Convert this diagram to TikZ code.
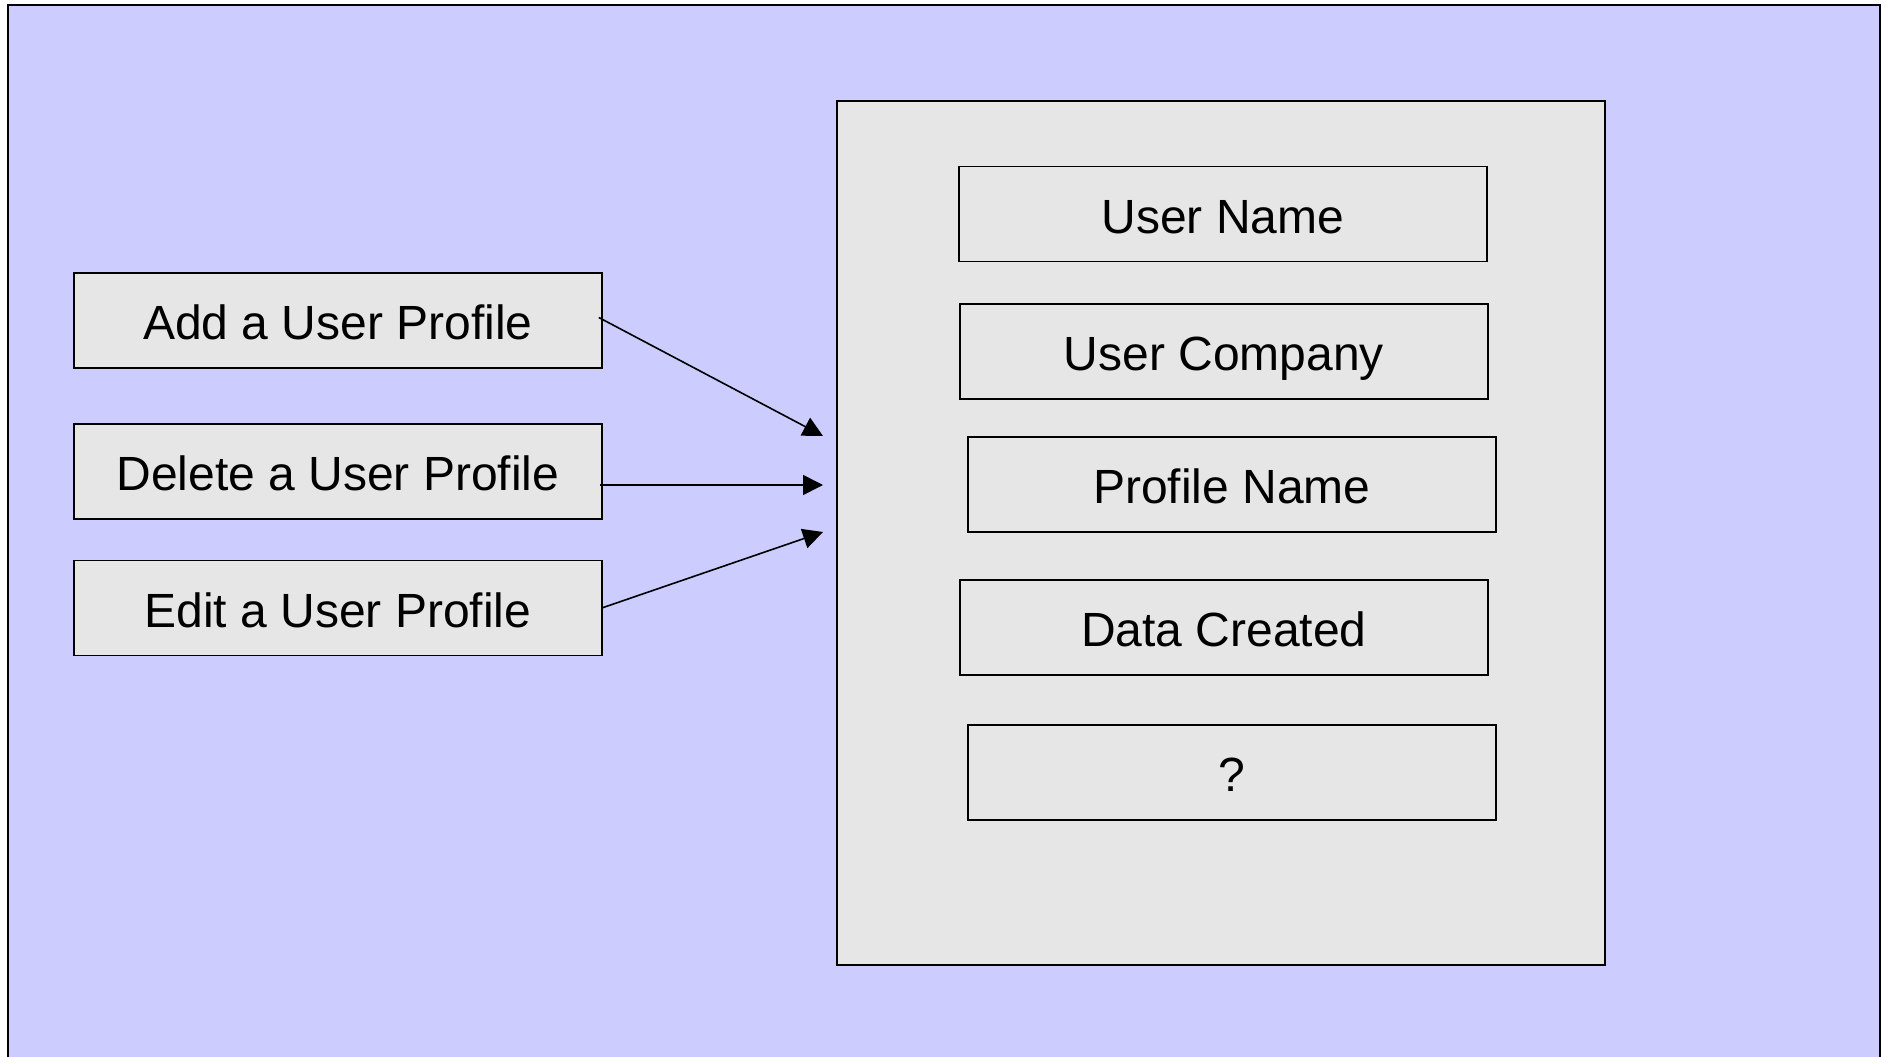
\documentclass[tikz,border=0pt]{standalone}
\usepackage{fontspec}
\setmainfont{Liberation Sans}
\usetikzlibrary{arrows.meta}
\definecolor{bgblue}{HTML}{CCCCFF}
\definecolor{boxgray}{HTML}{E6E6E6}
\begin{document}
\begin{tikzpicture}[x=1pt,y=-1pt,
  fieldbox/.style={draw=black,line width=1.6pt,fill=boxgray,minimum width=528pt,minimum height=95pt,inner sep=0pt,text height=38pt,text depth=0pt,font=\fontsize{48}{57}\selectfont},
  conn/.style={line width=1.6pt,-{Triangle[length=20pt,width=20pt]}}]
\useasboundingbox (0,0) rectangle (1891,1057);
\fill[bgblue] (8,5) rectangle (1880,1057);
\draw[line width=2.2pt] (8,1060) -- (8,5) -- (1880,5) -- (1880,1060);
\node[draw=black,line width=2pt,fill=boxgray,minimum width=768pt,minimum height=864pt,inner sep=0pt] (panel) at (1221,533) {};
\node[fieldbox] (uname) at (1223,214) {User Name};
\node[fieldbox] (ucomp) at (1224,351.5) {User Company};
\node[fieldbox] (pname) at (1232,484.5) {Profile Name};
\node[fieldbox] (dcreated) at (1224,627.5) {Data Created};
\node[fieldbox] (unknown) at (1232,772.5) {?};
\node[fieldbox] (add) at (338,320.5) {Add a User Profile};
\node[fieldbox] (del) at (338,471.5) {Delete a User Profile};
\node[fieldbox] (edit) at (338,608) {Edit a User Profile};
\coordinate (t1) at (823,436);
\coordinate (t2) at (823,485);
\coordinate (t3) at (823,532);
\draw[conn] ([xshift=-4pt,yshift=3pt]add.east) -- (t1);
\draw[conn] ([xshift=-3pt,yshift=-13.5pt]del.east) -- (t2);
\draw[conn] ([xshift=-1pt]edit.east) -- (t3);
\end{tikzpicture}
\end{document}
